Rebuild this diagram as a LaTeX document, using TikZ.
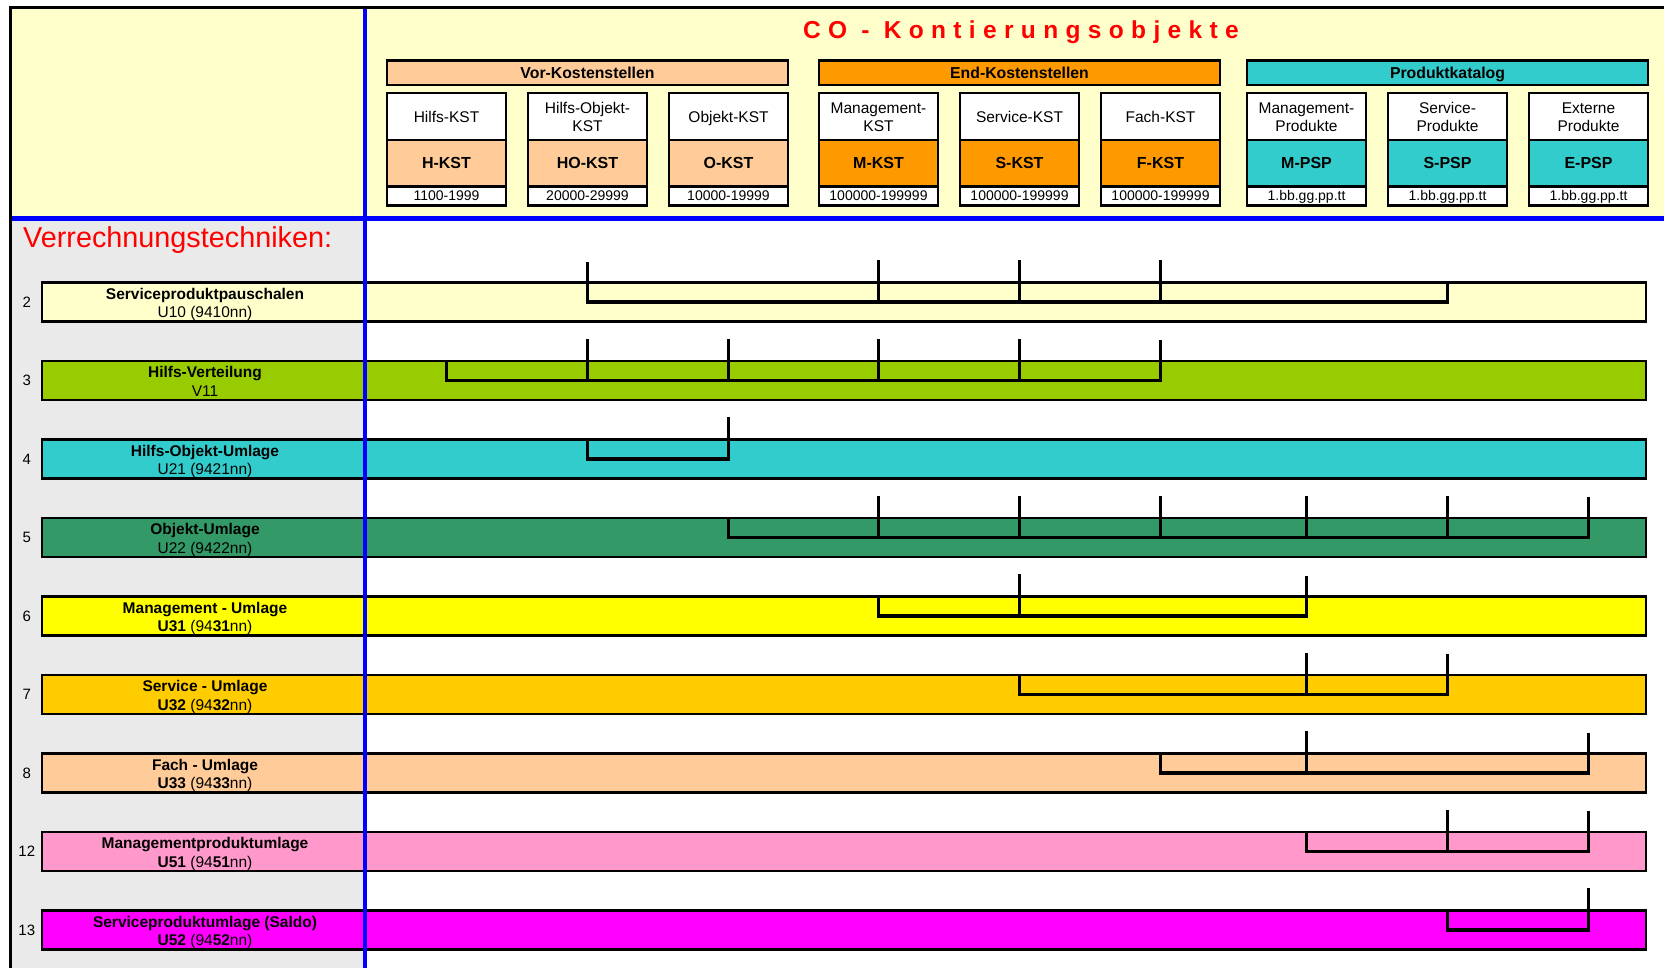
\documentclass[tikz,border=0pt]{standalone}
\usepackage{fontspec}
\setmainfont{Liberation Sans}
\newfontfamily\titlefont[LetterSpace=30]{Liberation Sans}
\usetikzlibrary{calc}
\definecolor{hdr}{HTML}{FFFFCC}
\definecolor{cpeach}{HTML}{FFCC99}
\definecolor{corange}{HTML}{FF9900}
\definecolor{cteal}{HTML}{33CCCC}
\definecolor{cA}{HTML}{FFFFCC}
\definecolor{cB}{HTML}{99CC00}
\definecolor{cC}{HTML}{33CCCC}
\definecolor{cD}{HTML}{339966}
\definecolor{cE}{HTML}{FFFF00}
\definecolor{cF}{HTML}{FFCC00}
\definecolor{cG}{HTML}{FFCC99}
\definecolor{cH}{HTML}{FF99CC}
\definecolor{cI}{HTML}{FF00FF}
\definecolor{leftgray}{HTML}{EAEAEA}
\definecolor{cred}{HTML}{FF0000}
\definecolor{cblue}{HTML}{0000FF}
% name, x, fill, top line 1, top line 2 (may be empty), mid text, number text
\newcommand\kobj[7]{%
  \node[topcell] (t#1) at (#2,116.6) {};
  \node[midcell,fill=#3] (#1) at (#2,163.3) {};
  \node[numcell] (n#1) at (#2,196) {};
  \if\relax\detokenize{#5}\relax
    \node[ttxt] (t#1a) at (#2,122.7) {#4};
  \else
    \node[ttxt] (t#1a) at (#2,114) {#4};
    \node[ttxt] (t#1b) at (#2,131.7) {#5};
  \fi
  \node[mtxt] (m#1t) at (#2,168.3) {#6};
  \node[ntxt] (n#1t) at (#2,200.7) {#7};
}
% name, center y, fill, number, line 1, line 2
\newcommand\rowbar[6]{%
  \node[bar,fill=#3] (#1) at (844,#2) {};
  \node[blbl,font=\fontsize{15.5}{19}\selectfont\bfseries] (#1a) at (205,#2-2.6) {#5};
  \node[blbl] (#1b) at (205,#2+15.8) {#6};
  \node[rnum] (#1n) at (26.8,#2) {#4};
}
\newcommand\allot[4]{%
  \draw[brk] (#2.center |- #1.north) -- (#2.center |- #1.center) -- (#3.center |- #1.center) -- ($(#3.center |- #1.north)+(0,-19.5)$);
  \foreach \c in {#4} {\draw[brk,line cap=rect] ($(\c.center |- #1.north)+(0,-19.5)$) -- (\c.center |- #1.center);}
}
\begin{document}
\begin{tikzpicture}[x=1pt,y=-1pt,
  frame/.style={draw=black,line width=2.5pt},
  grp/.style={frame,minimum width=401pt,minimum height=24.5pt,inner sep=0pt,font=\fontsize{15.8}{18}\selectfont\bfseries,text height=11.1pt,text depth=0pt},
  topcell/.style={frame,fill=white,minimum width=119pt,minimum height=46.7pt,inner sep=0pt},
  midcell/.style={frame,minimum width=119pt,minimum height=46.7pt,inner sep=0pt},
  numcell/.style={frame,fill=white,minimum width=119pt,minimum height=19pt,inner sep=0pt},
  ttxt/.style={anchor=base,inner sep=0pt,font=\fontsize{15.5}{18}\selectfont},
  mtxt/.style={anchor=base,inner sep=0pt,font=\fontsize{16}{18}\selectfont\bfseries},
  ntxt/.style={anchor=base,inner sep=0pt,font=\fontsize{14}{16}\selectfont},
  bar/.style={draw=black,line width=2.5pt,minimum width=1604pt,minimum height=39pt,inner sep=0pt},
  blbl/.style={anchor=base,inner sep=0pt,font=\fontsize{15.5}{19}\selectfont},
  rnum/.style={font=\fontsize{15}{18}\selectfont,inner sep=0pt},
  brk/.style={line width=3.2pt,line join=miter},
  blueline/.style={draw=cblue,line width=4.5pt}]
\useasboundingbox (0,0) rectangle (1664,968);
% backgrounds
\fill[white] (0,0) rectangle (1664,968);
\fill[hdr] (10.7,7.7) rectangle (1664,218.6);
\fill[leftgray] (10.7,218.6) rectangle (365,968);
% title
\node[anchor=base,font=\titlefont\bfseries\fontsize{24.5}{28}\selectfont,text=cred,inner sep=0pt] (title) at (1021,38.3) {CO - Kontierungsobjekte};
% group headers
\node[grp,fill=cpeach] (g1) at (587.5,72.75) {Vor-Kostenstellen};
\node[grp,fill=corange] (g2) at (1019.5,72.75) {End-Kostenstellen};
\node[grp,fill=cteal] (g3) at (1447.5,72.75) {Produktkatalog};
% objects
\kobj{H}{446.5}{cpeach}{Hilfs-KST}{}{H-KST}{1100-1999}
\kobj{HO}{587.5}{cpeach}{Hilfs-Objekt-}{KST}{HO-KST}{20000-29999}
\kobj{O}{728.5}{cpeach}{Objekt-KST}{}{O-KST}{10000-19999}
\kobj{M}{878.5}{corange}{Management-}{KST}{M-KST}{100000-199999}
\kobj{S}{1019.5}{corange}{Service-KST}{}{S-KST}{100000-199999}
\kobj{F}{1160.5}{corange}{Fach-KST}{}{F-KST}{100000-199999}
\kobj{MP}{1306.5}{cteal}{Management-}{Produkte}{M-PSP}{1.bb.gg.pp.tt}
\kobj{SP}{1447.5}{cteal}{Service-}{Produkte}{S-PSP}{1.bb.gg.pp.tt}
\kobj{EP}{1588.5}{cteal}{Externe}{Produkte}{E-PSP}{1.bb.gg.pp.tt}
% heading left
\node[anchor=base west,text=cred,font=\fontsize{28.8}{32}\selectfont,inner sep=0pt] (vt) at (23,247.5) {Verrechnungstechniken:};
% bars with labels
\rowbar{r2}{302}{cA}{2}{Serviceproduktpauschalen}{U10 (9410nn)}
\rowbar{r3}{380.5}{cB}{3}{Hilfs-Verteilung}{V11}
\rowbar{r4}{459}{cC}{4}{Hilfs-Objekt-Umlage}{U21 (9421nn)}
\rowbar{r5}{537.5}{cD}{5}{Objekt-Umlage}{U22 (9422nn)}
\rowbar{r6}{616}{cE}{6}{Management - Umlage}{\textbf{U31} (94\textbf{31}nn)}
\rowbar{r7}{694.5}{cF}{7}{Service - Umlage}{\textbf{U32} (94\textbf{32}nn)}
\rowbar{r8}{773}{cG}{8}{Fach - Umlage}{\textbf{U33} (94\textbf{33}nn)}
\rowbar{r12}{851.5}{cH}{12}{Managementproduktumlage}{\textbf{U51} (94\textbf{51}nn)}
\rowbar{r13}{930}{cI}{13}{Serviceproduktumlage (Saldo)}{\textbf{U52} (94\textbf{52}nn)}
% allocations
\allot{r2}{SP}{HO}{M,S,F}
\allot{r3}{H}{F}{HO,O,M,S}
\allot{r4}{HO}{O}{O}
\allot{r5}{O}{EP}{M,S,F,MP,SP}
\allot{r6}{M}{MP}{S}
\allot{r7}{S}{SP}{MP}
\allot{r8}{F}{EP}{MP}
\allot{r12}{MP}{EP}{SP}
\allot{r13}{SP}{EP}{EP}
% blue lines and frame
\draw[blueline] (365,7.7) -- (365,968);
\draw[blueline] (10.7,218.6) -- (1664,218.6);
\draw[line width=3.5pt] (10.7,975) -- (10.7,7.7) -- (1670,7.7);
\end{tikzpicture}
\end{document}
